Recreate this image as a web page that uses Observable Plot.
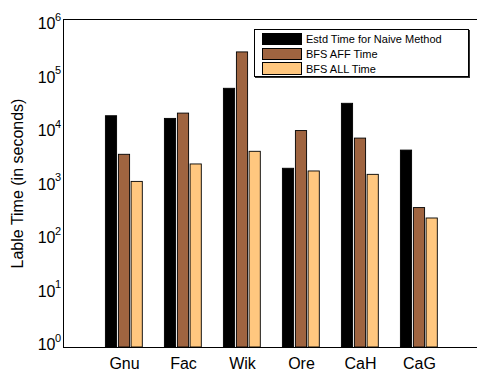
<!DOCTYPE html>
<html><head><meta charset="utf-8">
<script src="https://cdn.jsdelivr.net/npm/d3@7"></script>
<script src="https://cdn.jsdelivr.net/npm/@observablehq/plot@0.6"></script>
<style>
html,body{margin:0;padding:0;background:#fff;overflow:hidden}
#wrap{position:relative;width:477px;height:372px;overflow:hidden}
#legend{position:absolute;left:254px;top:29px;width:215px;height:48px;border:1px solid #000;box-shadow:1px 1px 0 #333;background:#fff;box-sizing:border-box;font-family:"Liberation Sans",Arial,sans-serif;font-size:11px;color:#000}
#legend .row{position:absolute;left:7px;height:12px;display:flex;align-items:center}
#legend .sw{width:38px;height:10.5px;border:1px solid #000;margin-right:4px}
</style></head>
<body><div id="wrap"><div id="chart"></div><div id="legend"></div></div>
<script>
const categories = ["Gnu","Fac","Wik","Ore","CaH","CaG"];
const naiveTime = [17000, 15200, 54000, 1860, 28700, 4000];
const affTime   = [3350, 19000, 250000, 9100, 6630, 355];
const allTime   = [1070, 2230, 3800, 1660, 1440, 229];
const seriesNames = ["Estd Time for Naive Method","BFS AFF Time","BFS ALL Time"];
const seriesColors = ["#000000","#9F6440","#FFC77F"];
const yTicks = [1,10,100,1000,10000,100000,1000000];
const yTickExps = ["0","1","2","3","4","5","6"];
const yLabel = "Lable Time (in seconds)";

const seriesValues = [naiveTime, affTime, allTime];
const offsets = [-13, 0, 12.7];
const font = "'Liberation Sans', Arial, sans-serif";

const barMarks = seriesValues.map((vals, s) =>
  Plot.barY(categories.map((c, i) => ({cat: c, v: vals[i]})), {
    x: "cat", y1: 1, y2: "v", fill: seriesColors[s], stroke: "#000", strokeWidth: 0.9,
    dx: offsets[s], insetLeft: 0.4, insetRight: 0.4
  })
);

// tick labels: "10" with superscript exponent (labels drift slightly as in the original)
const tickMarks = yTicks.flatMap((t, i) => [
  Plot.text([t], {y: d => d, frameAnchor: "left", text: () => "10", textAnchor: "end", lineAnchor: "bottom", dx: -8, dy: 2.5 + i * 1.2, fontSize: 16, fill: "#000"}),
  Plot.text([t], {y: d => d, frameAnchor: "left", text: () => yTickExps[i], textAnchor: "start", lineAnchor: "bottom", dx: -8.5, dy: 2.5 + i * 1.2 - 8.5, fontSize: 11, fill: "#000"})
]);

const chart = Plot.plot({
  width: 477, height: 372,
  marginLeft: 63, marginRight: -3, marginTop: 19, marginBottom: 25,
  style: {fontFamily: font, fontSize: "16px", background: "#fff", color: "#000"},
  x: {type: "band", domain: categories, paddingInner: 0.8, paddingOuter: 0.9, axis: null},
  y: {type: "log", domain: [1, 1e6], axis: null},
  marks: [
    ...barMarks,
    Plot.frame({stroke: "#000", strokeWidth: 1}),
    Plot.axisX({tickSize: 0, tickPadding: 10, fontSize: 16, label: null, fill: "#000"}),
    ...tickMarks,
    Plot.text([yLabel], {y: () => 1000, frameAnchor: "left", text: d => d, textAnchor: "middle", lineAnchor: "middle", rotate: -90, dx: -45.5, fontSize: 16, fill: "#000"})
  ]
});
document.getElementById("chart").appendChild(chart);

const legend = document.getElementById("legend");
const rowTops = [3, 18, 32.5];
seriesNames.forEach((name, i) => {
  const row = document.createElement("div");
  row.className = "row";
  row.style.top = rowTops[i] + "px";
  const sw = document.createElement("div");
  sw.className = "sw";
  sw.style.background = seriesColors[i];
  const lab = document.createElement("span");
  lab.textContent = name;
  row.appendChild(sw); row.appendChild(lab);
  legend.appendChild(row);
});
</script>
</body></html>
